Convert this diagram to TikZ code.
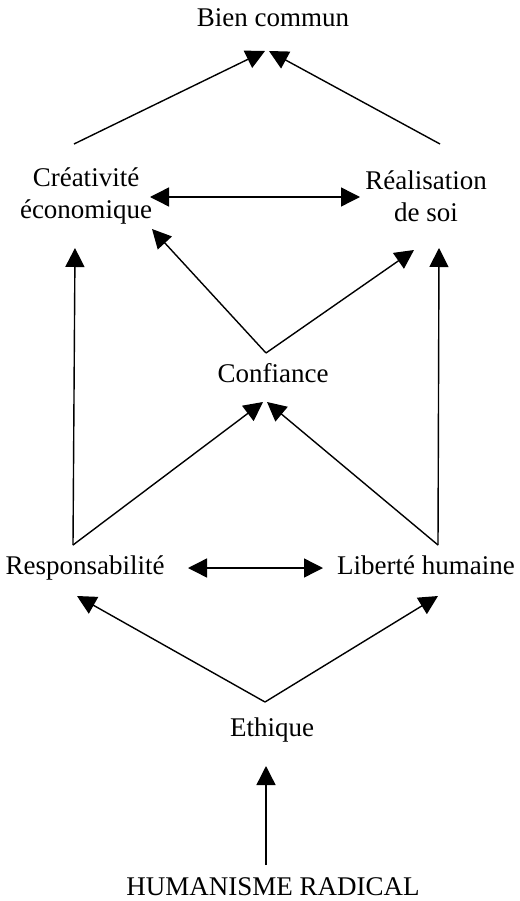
\documentclass[tikz,border=0pt]{standalone}
\usepackage{fontspec}
\setmainfont{Liberation Serif}
\usetikzlibrary{arrows.meta}

\begin{document}
\begin{tikzpicture}[x=1pt,y=-1pt,line width=1.4pt,
  txt/.style={font=\fontsize{27}{32}\selectfont,inner sep=0pt},
  >={Triangle[length=19pt,width=19pt]}]
\useasboundingbox (0,0) rectangle (519,901);
\node at (273, 27) (bien) [txt,anchor=base] {Bien commun};
\node at ( 86,196) (cre)  [txt,align=center] {Créativité\\économique};
\node at (426,196) (rea)  [txt,align=center] {Réalisation\\de soi};
\node at (273,382) (conf) [txt,anchor=base] {Confiance};
\node at ( 85,574) (resp) [txt,anchor=base] {Responsabilité};
\node at (426,574) (lib)  [txt,anchor=base] {Liberté humaine};
\node at (272,736) (eth)  [txt,anchor=base] {Ethique};
\node at (273,895) (hum)  [txt,anchor=base] {HUMANISME RADICAL};
% vers le bien commun
\draw [->] ([shift={(-12,-52)}]cre.center) -- ([shift={(-8,24)}]bien.base);
\draw [->] ([shift={(14,-52)}]rea.center) -- ([shift={(-4,24)}]bien.base);
\draw [<->] ([shift={(64,1)}]cre.center) -- ([shift={(-66,1)}]rea.center);
% confiance
\draw [->] ([shift={(-7,-29)}]conf.base) -- ([shift={(66,33)}]cre.center);
\draw [->] ([shift={(-7,-29)}]conf.base) -- ([shift={(-12,54)}]rea.center);
\draw [->] ([shift={(-12,-29)}]resp.base) -- ([shift={(-10,20)}]conf.base);
\draw [->] ([shift={(12,-29)}]lib.base) -- ([shift={(-6,20)}]conf.base);
% montants
\draw [->] ([shift={(-12,-29)}]resp.base) -- ([shift={(-11,52)}]cre.center);
\draw [->] ([shift={(12,-29)}]lib.base) -- ([shift={(13,52)}]rea.center);
\draw [<->] ([shift={(103,-6)}]resp.base) -- ([shift={(-103,-6)}]lib.base);
% ethique
\draw [->] ([shift={(-7,-34)}]eth.base) -- ([shift={(-8,22)}]resp.base);
\draw [->] ([shift={(-7,-34)}]eth.base) -- ([shift={(12,22)}]lib.base);
\draw [->] ([shift={(-7,-30)}]hum.base) -- ([shift={(-6,30)}]eth.base);
\end{tikzpicture}
\end{document}
